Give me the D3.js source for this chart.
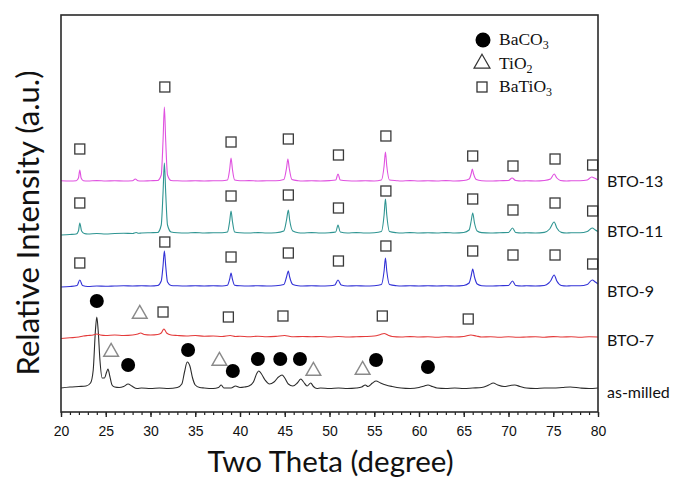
<!DOCTYPE html>
<html>
<head>
<meta charset="utf-8">
<script src="https://cdn.jsdelivr.net/npm/d3@7"></script>
<style>
  html, body { margin: 0; padding: 0; background: #fff; }
  svg { display: block; }
</style>
</head>
<body>
<svg id="chart" width="688" height="478"></svg>
<script>
// ---- XRD patterns: [2θ (deg), intensity above each pattern's own baseline (a.u.)] ----
const asMilled = [[20,0],[21,1],[22,1.5],[22.8,2],[23.3,5],[23.6,18],[23.85,58],[24.0,71],[24.15,58],[24.35,28],[24.6,10],[24.85,10],[25.1,16],[25.25,19],[25.45,12],[25.7,3],[26,1],[26.5,0.5],[27,1.5],[27.5,4],[27.9,2],[28.5,-0.5],[29,0],[30,-0.5],[31,0],[32,-0.5],[33,0.5],[33.5,4],[33.8,16],[34.1,26],[34.4,22],[34.7,10],[35,3],[35.5,0.5],[36,0],[37,-0.5],[37.6,0.5],[37.9,3],[38.2,0],[39,0],[39.5,2],[40,0.5],[40.5,1],[41,2],[41.5,6],[41.9,15],[42.1,17],[42.4,14],[42.8,8],[43.3,4],[43.8,6],[44.3,11],[44.7,13],[45.0,10],[45.4,4],[45.9,2],[46.4,5],[46.8,9],[47.1,6],[47.5,2],[47.9,5],[48.2,1.5],[48.6,-0.5],[49,0],[50,-0.5],[51,0],[52,-0.5],[53,0],[53.6,1],[54.0,3],[54.3,1.5],[54.8,5],[55.2,7],[55.7,5],[56.3,3],[57,1.5],[58,0],[59,-0.5],[60,0.5],[60.6,2],[61.0,3],[61.5,1.5],[62,0],[63,-0.5],[64,0],[65,-0.5],[66,0],[67,0.5],[67.8,3],[68.3,5],[68.8,3],[69.5,1.5],[70.2,2.5],[70.7,3],[71.3,1.5],[72,0],[73,-0.5],[74,0],[75,0],[76,0.5],[76.9,1],[78,0],[79,-0.5],[80,0]];

const bto7 = [[20,-1.5],[21,-0.8],[22,0],[22.5,1],[23,1.5],[23.6,2],[24,3],[24.4,2],[25,1.5],[26,2],[27,1.5],[28,2],[28.6,3],[28.9,4],[29.3,2.5],[30,2],[30.8,2.5],[31.2,4],[31.5,8],[31.8,4],[32.3,2],[33,1.5],[34,1],[35,1.5],[36,0.8],[37,1],[38,0.5],[38.9,1.5],[39.5,0.5],[40,0.8],[41,0.3],[42,0.8],[43,0.2],[44,0.6],[45,1.5],[45.6,0.5],[46,0.3],[47,0.5],[48,0.2],[49,0.5],[50,0],[51,0.5],[52,0],[53,0.3],[54,0.5],[55,1],[55.7,2.5],[56.1,3.5],[56.6,1.5],[57,0.5],[58,0],[59,0.4],[60,0],[61,0.3],[62,-0.2],[63,0.3],[64,0],[65,0.5],[65.8,2],[66.4,1],[67,0],[68,0.3],[69,-0.2],[70,0.2],[71,-0.3],[72,0],[73,0.3],[74,-0.2],[75,0.4],[76,0],[77,0.3],[78,-0.2],[79,0.2],[80,0]];

const bto9 = [[20,-1],[21,-0.5],[21.8,0.5],[22.1,6],[22.4,0.5],[23,-0.5],[24,0],[25,-0.3],[26,0],[27,0.2],[28,0],[29,0.3],[30,0],[30.8,0.5],[31.2,5],[31.4,20],[31.55,35],[31.7,20],[31.9,4],[32.3,0.5],[33,0.2],[34,0],[35,0.3],[36,0],[37,0.3],[38,0],[38.6,0.8],[38.85,7],[39.0,13],[39.15,7],[39.4,0.8],[40,0.2],[41,0],[42,0.3],[43,0],[44,0.3],[44.9,1.5],[45.2,9],[45.4,15],[45.55,9],[45.9,1.5],[46.5,0.2],[47,0],[48,0.3],[49,0],[50,0.3],[50.6,1],[50.95,6],[51.3,1],[52,0],[53,0.3],[54,0],[55,0.3],[55.8,1.5],[56.1,15],[56.25,28],[56.4,15],[56.7,1.5],[57.5,0.3],[58,0],[59,0.3],[60,0],[61,0.3],[62,0],[63,0.3],[64,0],[65,0.5],[65.6,3],[65.85,11],[66.0,17],[66.2,9],[66.5,2],[67,0.3],[68,0],[69,0.3],[70,0.5],[70.45,5],[70.8,0.5],[71.5,0],[72,0.3],[73,0],[74,0.5],[74.5,3],[74.7,5],[75.1,11],[75.4,5],[75.9,0.5],[76.5,0],[77,0.3],[78,0.2],[78.8,1.5],[79.35,6],[79.7,4],[80,2]];

const bto11 = [[20,-2],[21,-1.5],[21.7,-1],[21.95,2],[22.1,10],[22.3,2],[22.6,-0.5],[23,-1],[24,-0.5],[25,-1],[26,-0.5],[27,-0.3],[28,-0.5],[28.4,0.5],[28.7,-0.3],[29,0],[30,0.3],[30.8,0.5],[31.2,8],[31.4,40],[31.55,70],[31.7,40],[31.9,8],[32.3,1],[33,0.2],[34,0],[35,0.4],[36,0],[37,0.3],[38,0.3],[38.6,1],[38.85,12],[39.0,22],[39.15,12],[39.4,1],[40,0.3],[41,0],[42,0.4],[43,0],[44,0.3],[44.9,2],[45.2,13],[45.4,23],[45.55,13],[45.9,2],[46.5,0.3],[47,0],[48,0.4],[49,0],[50,0.3],[50.7,1],[50.95,8],[51.2,1],[52,0],[53,0.4],[54,0],[55,0.3],[55.8,1.5],[56.1,18],[56.25,34],[56.4,18],[56.7,1.5],[57.5,0.3],[58,0],[59,0.4],[60,0],[61,0.3],[62,0],[63,0.4],[64,0],[65,0.5],[65.6,3],[65.85,13],[66.0,20],[66.2,10],[66.5,2],[67,0.4],[68,0],[69,0.3],[70,0.5],[70.45,5],[70.8,0.5],[71.5,0],[72,0.3],[73,0],[74,0.6],[74.6,4],[75.1,11],[75.4,5],[75.9,0.6],[76.5,0],[77,0.3],[78,0.2],[78.8,1.5],[79.35,5],[79.7,3],[80,1.5]];

const bto13 = [[20,0.3],[21,0],[21.7,0.3],[21.95,3],[22.1,11],[22.25,3],[22.5,0.3],[23,0],[24,0.4],[25,0],[26,0.3],[27,0],[28,0.3],[28.3,2],[28.6,0.3],[29,0],[30,0.3],[30.8,0.5],[31.2,6],[31.4,40],[31.55,74],[31.7,40],[31.9,6],[32.3,0.5],[33,0.2],[34,0],[35,0.3],[36,0],[37,0.3],[38,0.2],[38.6,1],[38.85,12],[39.0,23],[39.15,12],[39.4,1],[40,0.2],[41,0.4],[42,0],[43,0.3],[44,0.2],[44.9,1.5],[45.2,13],[45.35,22],[45.5,13],[45.8,1.5],[46.5,0.3],[47,0],[48,0.3],[49,0],[50,0.4],[50.7,1],[50.95,7],[51.2,1],[52,0.2],[53,0],[54,0.3],[55,0],[55.8,1],[56.1,15],[56.25,29],[56.4,15],[56.7,1],[57.5,0.3],[58,0],[59,0.4],[60,0],[61,0.3],[62,0],[63,0.4],[64,0],[65,0.5],[65.6,2],[65.85,8],[65.95,12],[66.1,7],[66.4,1.5],[67,0.3],[68,0],[69,0.3],[70,0.5],[70.4,3],[70.8,0.5],[71.5,0],[72,0.3],[73,0],[74,0.5],[74.7,2],[75.1,7],[75.4,3],[75.8,0.5],[76.5,0],[77,0.3],[78,0.2],[78.8,1],[79.3,4],[79.6,3],[80,1]];

// sample names, vertical stacking offsets and trace colours
const sampleNames   = ["as-milled", "BTO-7", "BTO-9", "BTO-11", "BTO-13"];
const sampleData    = [asMilled, bto7, bto9, bto11, bto13];
const sampleOffsets = [24, 75, 126, 179, 231];
const sampleColors  = ["#2b2b2b", "#e43b3b", "#3232d6", "#2f9592", "#e052e0"];
const labelLevels   = [20, 72, 121, 181, 231];

// phase identification marks: [2θ, intensity level in the stacked plot]
const baco3Marks = [[24.0,111],[27.5,47],[34.2,62],[39.2,41],[42.0,53],[44.5,53],[46.7,53],[55.2,52],[61.0,45]];
const tio2Marks  = [[28.8,98],[25.6,60],[37.7,51],[48.2,41],[53.7,42]];
const batio3Marks = [
  [31.4,100],[38.7,95],[44.8,96],[55.9,96],[65.5,93],
  [22.1,149],[31.6,170],[39.0,155],[45.4,159],[51.0,151],[56.3,166],[66.0,161],[70.5,157],[75.2,157],[79.4,148],
  [22.1,209],[39.0,216],[45.4,217],[51.0,204],[56.3,221],[66.0,213],[70.5,202],[75.2,209],[79.4,201],
  [22.1,263],[31.6,325],[39.0,270],[45.4,273],[51.0,257],[56.3,276],[66.0,256],[70.5,246],[75.2,253],[79.4,247]
];

// legend entries: symbol, formula body, subscript
const legendItems = [
  { sym: "circle",   base: "BaCO",  sub: "3" },
  { sym: "triangle", base: "TiO",   sub: "2" },
  { sym: "square",   base: "BaTiO", sub: "3" }
];

const xMajorTicks = d3.range(20, 81, 5);
const xMinorTicks = d3.range(20, 81, 1);
const xTitle = "Two Theta (degree)";
const yTitle = "Relative Intensity (a.u.)";

// ---- layout ----
const svg = d3.select("#chart");
const plot = { left: 61, right: 598, top: 15, bottom: 412 };

const x = d3.scaleLinear().domain([20, 80]).range([plot.left, plot.right]);
const y = d3.scaleLinear().domain([0, 397]).range([plot.bottom, plot.top]);

// traces
const line = d3.line()
  .x(d => x(d[0]))
  .y(d => y(d[1]))
  .curve(d3.curveMonotoneX);

sampleData.forEach((data, i) => {
  const pts = data.map(d => [d[0], d[1] + sampleOffsets[i]]);
  svg.append("path")
    .attr("d", line(pts))
    .attr("fill", "none")
    .attr("stroke", sampleColors[i])
    .attr("stroke-width", 1.1)
    .attr("stroke-linejoin", "round");
});

// phase markers
const markG = svg.append("g");
markG.selectAll("circle.baco3").data(baco3Marks).join("circle")
  .attr("class", "baco3")
  .attr("cx", d => x(d[0])).attr("cy", d => y(d[1]))
  .attr("r", 7).attr("fill", "#000");

const triSym = d3.symbol().type(d3.symbolTriangle).size(95);
markG.selectAll("path.tio2").data(tio2Marks).join("path")
  .attr("class", "tio2")
  .attr("d", triSym)
  .attr("transform", d => `translate(${x(d[0])},${y(d[1])})`)
  .attr("fill", "#fff").attr("stroke", "#8a8a8a").attr("stroke-width", 1.4);

markG.selectAll("rect.batio3").data(batio3Marks).join("rect")
  .attr("class", "batio3")
  .attr("x", d => x(d[0]) - 5).attr("y", d => y(d[1]) - 5)
  .attr("width", 10).attr("height", 10)
  .attr("fill", "#fff").attr("stroke", "#3a3a3a").attr("stroke-width", 1.3);

// sample labels on the right
svg.append("g").selectAll("text").data(sampleNames).join("text")
  .attr("x", plot.right + 9)
  .attr("y", (d, i) => y(labelLevels[i]))
  .attr("dy", "0.35em")
  .attr("font-family", "Lato, 'Open Sans', sans-serif")
  .attr("font-size", 16)
  .attr("fill", "#111")
  .text(d => d);

// x axis: major and minor ticks
const axMinor = svg.append("g").attr("transform", `translate(0,${plot.bottom})`)
  .call(d3.axisBottom(x).tickValues(xMinorTicks).tickSize(3).tickFormat(""));
axMinor.select(".domain").remove();
axMinor.selectAll("line").attr("stroke", "#222").attr("stroke-width", 1.2);

const axMajor = svg.append("g").attr("transform", `translate(0,${plot.bottom})`)
  .call(d3.axisBottom(x).tickValues(xMajorTicks).tickSize(5).tickPadding(9).tickFormat(d3.format("d")));
axMajor.select(".domain").remove();
axMajor.selectAll("line").attr("stroke", "#222").attr("stroke-width", 1.4);
axMajor.selectAll("text")
  .attr("font-family", "'Liberation Sans', Arial, sans-serif")
  .attr("font-size", 14).attr("fill", "#111");

// frame
svg.append("rect")
  .attr("x", plot.left).attr("y", plot.top)
  .attr("width", plot.right - plot.left).attr("height", plot.bottom - plot.top)
  .attr("fill", "none").attr("stroke", "#2a2a2a").attr("stroke-width", 1.6);

// axis titles
svg.append("text")
  .attr("x", (plot.left + plot.right) / 2 + 1).attr("y", 472)
  .attr("text-anchor", "middle")
  .attr("font-family", "Lato, 'Open Sans', sans-serif")
  .attr("font-size", 29.5).attr("fill", "#111")
  .text(xTitle);

svg.append("text")
  .attr("transform", `translate(39,223) rotate(-90)`)
  .attr("text-anchor", "middle")
  .attr("font-family", "Lato, 'Open Sans', sans-serif")
  .attr("font-size", 31).attr("fill", "#111")
  .text(yTitle);

// legend
const legend = svg.append("g").attr("transform", "translate(483,40)");
const legRow = legend.selectAll("g").data(legendItems).join("g")
  .attr("transform", (d, i) => `translate(0,${i * 23.5})`);
legRow.filter(d => d.sym === "circle").append("circle").attr("r", 7.5).attr("fill", "#000");
legRow.filter(d => d.sym === "triangle").append("path")
  .attr("d", d3.symbol().type(d3.symbolTriangle).size(110))
  .attr("transform", "translate(-1,0)")
  .attr("fill", "#fff").attr("stroke", "#333").attr("stroke-width", 1.2);
legRow.filter(d => d.sym === "square").append("rect")
  .attr("x", -6).attr("y", -5).attr("width", 10).attr("height", 10)
  .attr("fill", "#fff").attr("stroke", "#333").attr("stroke-width", 1.3);
const legText = legRow.append("text")
  .attr("x", 16).attr("y", 5)
  .attr("font-family", "'Liberation Serif', 'Times New Roman', serif")
  .attr("font-size", 17.5).attr("fill", "#111");
legText.append("tspan").text(d => d.base);
legText.append("tspan").attr("dy", 4).attr("font-size", 12).text(d => d.sub);
</script>
</body>
</html>
